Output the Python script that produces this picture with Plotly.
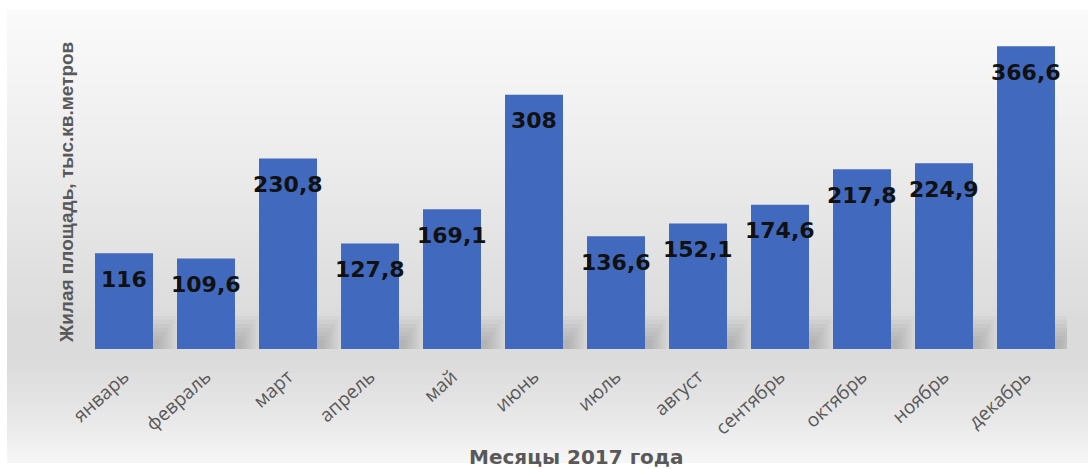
import plotly.graph_objects as go

# Monthly housing completions, 2017
months = ["январь", "февраль", "март", "апрель", "май", "июнь",
          "июль", "август", "сентябрь", "октябрь", "ноябрь", "декабрь"]
values = [116, 109.6, 230.8, 127.8, 169.1, 308, 136.6, 152.1, 174.6, 217.8, 224.9, 366.6]
value_labels = [f"{v:g}".replace(".", ",") for v in values]

x_title = "Месяцы 2017 года"
y_title = "Жилая площадь, тыс.кв.метров"

W, H = 1088, 469
M_L, M_R, M_T, M_B = 83, 21, 40, 120
plot_h = H - M_T - M_B
Y_MAX = 374.2


def py_to_paper(py):
    """Convert a pixel row (from the top of the figure) to paper y."""
    return (H - M_B - py) / plot_h


def px_to_paper(px):
    return (px - M_L) / (W - M_L - M_R)


def py_to_data(py):
    return (H - M_B - py) / plot_h * Y_MAX


# Soft vertical background gradient: (pixel row, gray level)
grad_stops = [(10, 250), (60, 246), (200, 232), (320, 219), (360, 219), (420, 232), (462, 246)]


def gray_at(py):
    for (a, ga), (b, gb) in zip(grad_stops, grad_stops[1:]):
        if a <= py <= b:
            t = (py - a) / (b - a)
            return ga + (gb - ga) * t
    return grad_stops[0][1] if py < grad_stops[0][0] else grad_stops[-1][1]


shapes = []
band = 3
for py in range(10, 462, band):
    g = int(round(gray_at(py + band / 2)))
    shapes.append(dict(
        type="rect", xref="paper", yref="paper", layer="below",
        x0=px_to_paper(7), x1=px_to_paper(W),
        y0=py_to_paper(py + band), y1=py_to_paper(py),
        fillcolor=f"rgb({g},{g},{g})", line=dict(width=0),
    ))

# Soft shadow cast to the right of each bar near its base
for i in range(len(months)):
    for k in range(7):
        shapes.append(dict(
            type="rect", xref="x", yref="y", layer="below",
            x0=i, x1=i + 0.64 - k * 0.035,
            y0=py_to_data(349), y1=py_to_data(316 + k * 4),
            fillcolor="rgba(70,70,70,0.035)", line=dict(width=0),
        ))

fig = go.Figure()
fig.add_trace(go.Bar(
    x=months, y=values,
    marker=dict(color="#4169bd", line=dict(width=0)),
    hoverinfo="x+y",
))

annotations = []
for m, v, lab in zip(months, values, value_labels):
    annotations.append(dict(
        x=m, y=v, xref="x", yref="y", text=lab, showarrow=False,
        yshift=-26, yanchor="middle",
        font=dict(family="DejaVu Sans", size=22, color="#111111", weight="bold"),
    ))

annotations.append(dict(
    x=px_to_paper(576), y=py_to_paper(457), xref="paper", yref="paper",
    text=f"<b>{x_title}</b>", showarrow=False, xanchor="center", yanchor="middle",
    font=dict(family="DejaVu Sans", size=20, color="#595959"),
))
annotations.append(dict(
    x=px_to_paper(66), y=py_to_paper(193), xref="paper", yref="paper",
    text=f"<b>{y_title}</b>", showarrow=False, textangle=-90,
    xanchor="center", yanchor="middle",
    font=dict(family="Liberation Sans", size=19, color="#595959"),
))

fig.update_layout(
    width=W, height=H,
    margin=dict(l=M_L, r=M_R, t=M_T, b=M_B),
    paper_bgcolor="white",
    plot_bgcolor="rgba(0,0,0,0)",
    bargap=0.293,
    showlegend=False,
    shapes=shapes,
    annotations=annotations,
    xaxis=dict(
        range=[-0.5, len(months) - 0.5], autorange=False,
        tickangle=-42, showgrid=False, zeroline=False, showline=False, ticks="",
        ticklabelstandoff=12,
        tickfont=dict(family="Open Sans", size=19, color="#595959"),
    ),
    yaxis=dict(
        range=[0, Y_MAX], showgrid=False, zeroline=False, showline=False,
        showticklabels=False, ticks="",
    ),
)

fig.write_html("out.html")
